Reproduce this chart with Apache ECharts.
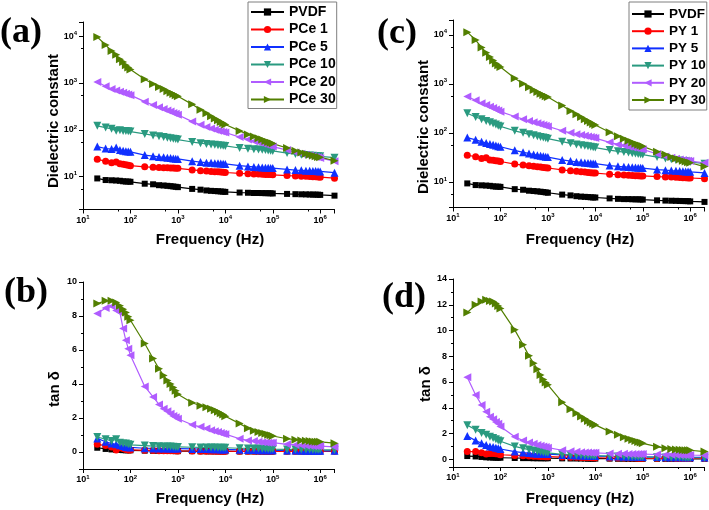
<!DOCTYPE html>
<html><head><meta charset="utf-8">
<script src="https://cdn.jsdelivr.net/npm/echarts@6/dist/echarts.min.js"></script>
<style>html,body{margin:0;padding:0;background:#fff}#c{width:709px;height:510px}</style>
</head><body><div id="c"></div>
<script>
// Frequencies (Hz)
const freq = [20,30,40,50,60,70,80,90,
  100,200,300,400,500,600,700,800,900,
  1e3,2e3,3e3,4e3,5e3,6e3,7e3,8e3,9e3,
  1e4,2e4,3e4,4e4,5e4,6e4,7e4,8e4,9e4,
  1e5,2e5,3e5,4e5,5e5,6e5,7e5,8e5,9e5,
  1e6,2e6];

const namesA = ['PVDF','PCe 1','PCe 5','PCe 10','PCe 20','PCe 30'];
const namesC = ['PVDF','PY 1','PY 5','PY 10','PY 20','PY 30'];

// (a) dielectric constant, PCe
const a_PVDF = [9.2,8.5,8.4,8.3,8.2,8.0,7.9,7.9, 7.8,7.1,6.9,6.6,6.5,6.4,6.3,6.2,6.1, 6.0,5.5,5.3,5.1,5.0,4.95,4.9,4.85,4.8, 4.75,4.6,4.55,4.5,4.5,4.48,4.46,4.45,4.44, 4.4,4.3,4.25,4.22,4.2,4.18,4.16,4.15,4.14, 4.1,3.95];
const a_PCe1 = [23.5,21.5,19.8,20.5,19.0,18.5,18.0,17.5, 17.2,16.3,16.0,15.8,15.6,15.5,15.4,15.3,15.2, 15.1,14.0,13.5,13.2,13.0,12.8,12.7,12.6,12.5, 12.3,11.8,11.6,11.5,11.4,11.3,11.2,11.2,11.1, 11.0,10.6,10.4,10.3,10.2,10.1,10.0,9.95,9.9, 9.8,9.3];
const a_PCe5 = [44,40,39,42,37,36,35,34.5, 34,29,27.5,26.5,26,25.5,25,24.5,24.2, 24,21.5,20.5,20,19.8,19.5,19.3,19.1,19, 18.8,17.2,16.6,16.2,16,15.8,15.6,15.5,15.4, 15.3,14.3,13.9,13.7,13.5,13.4,13.3,13.2,13.1, 13.0,12.2];
const a_PCe10 = [122,112,105,96,98,95,94,93, 92,82,76,73,70,68,66,65,64, 62,55,52,50,49,48,47,46.5,46, 45.5,41,39.5,38.5,38,37.5,37,36.5,36, 35.5,32,30.5,29.5,29,28.5,28,27.8,27.5, 27.2,25.5];
const a_PCe20 = [1050,850,740,690,650,620,590,570, 550,400,340,305,280,260,245,230,220, 210,150,128,115,107,101,96,93,90, 88,70,62,57,54,51,49,47,46, 44,37,33,31,29.5,28.5,27.5,26.5,26, 25,21.5];
const a_PCe30 = [9600,6500,4800,4000,3200,2800,2400,2150, 1950,1200,950,820,740,670,620,580,545, 520,350,270,225,195,175,160,148,138, 130,95,80,72,66,62,58,55,53, 51,41,36,33,31,29.5,28.5,27.5,26.5, 26,22];

// (b) tan delta, PCe
const b_PVDF = [0.25,0.18,0.15,0.13,0.12,0.11,0.1,0.1, 0.1,0.08,0.07,0.07,0.06,0.06,0.06,0.06,0.05, 0.05,0.05,0.04,0.04,0.04,0.04,0.04,0.04,0.04, 0.04,0.03,0.03,0.03,0.03,0.03,0.03,0.03,0.03, 0.03,0.03,0.03,0.03,0.03,0.03,0.03,0.03,0.03, 0.03,0.04];
const b_PCe1 = [0.45,0.38,0.3,0.12,0.25,0.2,0.15,0.12, 0.12,0.1,0.09,0.08,0.08,0.07,0.07,0.07,0.07, 0.06,0.06,0.05,0.05,0.05,0.05,0.05,0.05,0.05, 0.05,0.04,0.04,0.04,0.04,0.04,0.04,0.04,0.04, 0.04,0.04,0.04,0.04,0.04,0.04,0.04,0.04,0.04, 0.04,0.05];
const b_PCe5 = [0.8,0.6,0.5,0.45,0.4,0.35,0.3,0.28, 0.27,0.22,0.21,0.2,0.2,0.2,0.2,0.2,0.2, 0.2,0.18,0.17,0.17,0.16,0.16,0.16,0.15,0.15, 0.15,0.13,0.12,0.12,0.11,0.11,0.11,0.11,0.1, 0.1,0.09,0.09,0.08,0.08,0.08,0.08,0.08,0.08, 0.07,0.07];
const b_PCe10 = [0.88,0.75,0.65,0.75,0.55,0.5,0.5,0.45, 0.42,0.38,0.35,0.34,0.33,0.32,0.32,0.31,0.3, 0.3,0.28,0.27,0.27,0.26,0.26,0.25,0.25,0.25, 0.25,0.22,0.21,0.2,0.2,0.19,0.19,0.18,0.18, 0.17,0.15,0.15,0.14,0.14,0.14,0.13,0.13,0.13, 0.13,0.12];
const b_PCe20 = [8.14,8.47,8.57,8.33,8.2,7.26,6.57,6.08, 5.69,3.86,3.24,2.8,2.55,2.4,2.25,2.12,2.05, 1.96,1.6,1.48,1.38,1.28,1.22,1.18,1.12,1.08, 1.05,0.78,0.68,0.64,0.6,0.58,0.56,0.55,0.55, 0.55,0.45,0.42,0.4,0.38,0.37,0.36,0.35,0.35, 0.35,0.3];
const b_PCe30 = [8.73,8.9,8.9,8.8,8.6,8.4,8.2,7.95, 7.75,6.38,5.5,4.9,4.5,4.2,4.0,3.8,3.6, 3.4,2.9,2.72,2.63,2.55,2.45,2.37,2.28,2.2, 2.1,1.67,1.4,1.25,1.17,1.12,1.07,1.02,0.98, 0.94,0.78,0.72,0.68,0.66,0.64,0.62,0.61,0.6, 0.6,0.52];

// (c) dielectric constant, PY
const c_PVDF = [9.3,8.6,8.5,8.4,8.3,8.1,8.0,8.0, 7.9,7.1,6.9,6.6,6.5,6.4,6.3,6.2,6.1, 6.0,5.5,5.3,5.1,5.0,4.95,4.9,4.85,4.8, 4.8,4.6,4.5,4.45,4.45,4.42,4.4,4.4,4.38, 4.35,4.2,4.15,4.12,4.1,4.08,4.06,4.05,4.04, 4.0,3.9];
const c_PY1 = [35,32.5,30,31,28,27.5,27,26.5, 26,23,22,21.3,20.8,20.4,20,19.7,19.4, 19.2,17.5,16.8,16.4,16,15.8,15.6,15.4,15.2, 15.1,14.3,14,13.8,13.6,13.5,13.4,13.3,13.2, 13.2,12.8,12.6,12.5,12.4,12.3,12.2,12.1,12.0, 12.0,11.6];
const c_PY5 = [80,72,66,62,59,57,55,53, 52,44,40,38,36,35,34,33.3,32.7, 32,28,26.5,25.5,25,24.5,24.2,24,23.8, 23.5,21.5,20.7,20.3,20,19.8,19.6,19.4,19.3, 19.1,17.8,17.3,17,16.8,16.6,16.4,16.3,16.2, 16.0,15.2];
const c_PY10 = [250,210,190,175,165,155,147,140, 135,110,100,93,89,85,82,80,78, 76,66,61,58,56,54.5,53,52,51, 50,44.5,42,40.5,39.5,38.5,37.8,37.2,36.6, 36,32,30,29,28,27.3,26.7,26.2,25.8, 25.5,23.5];
const c_PY20 = [550,460,400,370,340,320,300,285, 270,215,190,175,165,157,150,145,140, 135,110,100,94,90,87,84,82,80, 78,64,58,55,52,50.5,49,48,47, 46,37,33,31,29.5,28.5,27.8,27.2,26.8, 26.5,24.5];
const c_PY30 = [11300,7800,5500,4300,3500,3000,2600,2400, 2200,1300,1000,850,750,680,630,590,560, 540,360,280,240,210,190,175,162,152, 145,103,85,76,69,64,60,57,55, 53,41,36,32,30,28.5,27,26,25, 24.5,20.5];

// (d) tan delta, PY
const d_PVDF = [0.25,0.22,0.18,0.15,0.14,0.13,0.12,0.12, 0.12,0.1,0.09,0.09,0.08,0.08,0.08,0.08,0.08, 0.08,0.07,0.06,0.06,0.06,0.06,0.05,0.05,0.05, 0.05,0.05,0.04,0.04,0.04,0.04,0.04,0.04,0.04, 0.04,0.04,0.03,0.03,0.03,0.03,0.03,0.03,0.03, 0.03,0.03];
const d_PY1 = [0.6,0.6,0.5,0.4,0.45,0.45,0.42,0.4, 0.35,0.3,0.27,0.25,0.24,0.23,0.22,0.21,0.2, 0.2,0.17,0.15,0.15,0.14,0.14,0.13,0.13,0.12, 0.12,0.1,0.1,0.09,0.09,0.09,0.09,0.08,0.08, 0.08,0.07,0.07,0.07,0.06,0.06,0.06,0.06,0.06, 0.06,0.06];
const d_PY5 = [1.8,1.45,1.25,1.1,1.0,0.95,0.9,0.85, 0.8,0.6,0.52,0.48,0.45,0.43,0.42,0.41,0.4, 0.4,0.34,0.31,0.3,0.29,0.28,0.27,0.26,0.26, 0.25,0.22,0.21,0.2,0.2,0.19,0.19,0.19,0.18, 0.18,0.17,0.16,0.16,0.16,0.15,0.15,0.15,0.15, 0.15,0.14];
const d_PY10 = [2.65,2.3,2.05,1.9,1.75,1.65,1.55,1.45, 1.4,1.0,0.85,0.75,0.68,0.62,0.58,0.55,0.52, 0.5,0.38,0.34,0.32,0.31,0.3,0.29,0.29,0.28, 0.28,0.24,0.22,0.21,0.2,0.2,0.19,0.19,0.19, 0.18,0.15,0.14,0.14,0.13,0.13,0.13,0.12,0.12, 0.12,0.1];
const d_PY20 = [6.37,5.0,4.22,3.7,3.3,3.1,2.9,2.75, 2.55,1.75,1.45,1.3,1.2,1.1,1.05,1.0,0.95, 0.9,0.7,0.62,0.58,0.55,0.53,0.52,0.51,0.5, 0.5,0.45,0.43,0.42,0.41,0.41,0.4,0.4,0.4, 0.4,0.37,0.36,0.35,0.35,0.34,0.34,0.34,0.34, 0.33,0.3];
const d_PY30 = [11.4,12.0,12.26,12.39,12.3,12.26,12.1,11.9, 11.7,10.05,8.9,8.03,7.46,7.0,6.55,6.2,5.96, 5.78,4.43,3.89,3.58,3.32,3.14,2.98,2.85,2.75, 2.67,2.15,1.9,1.71,1.6,1.5,1.42,1.35,1.3, 1.24,0.98,0.85,0.8,0.75,0.73,0.72,0.71,0.7, 0.7,0.6];

const FONT = '"Liberation Sans", Arial, sans-serif';
const SERIF = '"Liberation Serif", "Times New Roman", serif';
const colors = ['#000000','#ff0000','#1030ff','#2a9a80','#b05cff','#527f00'];
const symbols = ['rect','circle','triangle','path://M0,0L10,0L5,9Z','path://M9,0L9,10L0,5Z','path://M0,0L0,10L9,5Z'];
const symSizes = [6,7,8,8,8,8];

const chart = echarts.init(document.getElementById('c'));

const richPow = {
  b:{fontSize:9,fontWeight:'bold',fontFamily:FONT,color:'#000'},
  s:{fontSize:6,fontWeight:'bold',fontFamily:FONT,color:'#000',padding:[0,0,6,0]}
};
function powFmt(v){
  const e = Math.log10(v);
  if (Math.abs(e - Math.round(e)) > 1e-6) return '';
  return '{b|10}{s|' + Math.round(e) + '}';
}
const axLine = {show:true, onZero:false, lineStyle:{color:'#000', width:1}};
const axTick = {show:true, length:4, lineStyle:{color:'#000', width:1}};
const minTick = {show:true, splitNumber:2, length:2, lineStyle:{color:'#000', width:1}};

function logX(gi){
  return {type:'log', logBase:10, gridIndex:gi, min:10, max:2e6,
    axisLine:axLine, axisTick:axTick, minorTick:minTick,
    splitLine:{show:false}, minorSplitLine:{show:false},
    axisLabel:{margin:5, formatter:powFmt, rich:richPow}};
}
function logY(gi, min, max){
  return {type:'log', logBase:10, gridIndex:gi, min:min, max:max,
    axisLine:axLine, axisTick:axTick, minorTick:minTick,
    splitLine:{show:false}, minorSplitLine:{show:false},
    axisLabel:{margin:6, formatter:powFmt, rich:richPow}};
}
function linY(gi, min, max, split){
  return {type:'value', gridIndex:gi, min:min, max:max, splitNumber:split,
    axisLine:axLine, axisTick:axTick, minorTick:minTick,
    splitLine:{show:false}, minorSplitLine:{show:false},
    axisLabel:{margin:6, fontSize:9, fontWeight:'bold', fontFamily:FONT, color:'#000',
      formatter: v => (v < 0 ? '' : String(v))}};
}

function mk(names, arrs, gi){
  return arrs.map((vals, k) => ({
    type:'line', name:names[k], xAxisIndex:gi, yAxisIndex:gi,
    data: freq.map((f, i) => [f, vals[i]]),
    symbol: symbols[k], symbolSize: symSizes[k], showSymbol:true, showAllSymbol:true,
    lineStyle:{color:colors[k], width:1.2}, itemStyle:{color:colors[k]},
    emphasis:{disabled:true}, animation:false
  }));
}

const series = [].concat(
  mk(namesA, [a_PVDF,a_PCe1,a_PCe5,a_PCe10,a_PCe20,a_PCe30], 0),
  mk(namesA, [b_PVDF,b_PCe1,b_PCe5,b_PCe10,b_PCe20,b_PCe30], 1),
  mk(namesC, [c_PVDF,c_PY1,c_PY5,c_PY10,c_PY20,c_PY30], 2),
  mk(namesC, [d_PVDF,d_PY1,d_PY5,d_PY10,d_PY20,d_PY30], 3)
);

function txt(t, x, y, size, opts){
  return Object.assign({type:'text', x:x, y:y, z:100,
    style:{text:t, fontSize:size, fontWeight:'bold', fontFamily:FONT, fill:'#000',
      align:'center', verticalAlign:'middle'}}, opts || {});
}
function ptxt(t, x, y){
  return {type:'text', x:x, y:y, z:100,
    style:{text:t, fontSize:36, fontWeight:'bold', fontFamily:SERIF, fill:'#000',
      align:'left', verticalAlign:'middle'}};
}

const legendBase = {orient:'vertical', itemWidth:33, itemHeight:9, borderColor:'#7f7f7f', borderWidth:1,
  backgroundColor:'#fff', selectedMode:false,
  textStyle:{fontSize:14, fontWeight:'bold', fontFamily:FONT, color:'#000'}};

chart.setOption({
  animation:false,
  backgroundColor:'#fff',
  grid:[
    {left:83, top:22, width:251.5, height:187.5, outerBoundsMode:'none'},
    {left:83, top:282, width:251.5, height:187, outerBoundsMode:'none'},
    {left:453, top:20, width:251.5, height:187.5, outerBoundsMode:'none'},
    {left:453, top:279, width:251.5, height:188, outerBoundsMode:'none'}
  ],
  xAxis:[logX(0), logX(1), logX(2), logX(3)],
  yAxis:[logY(0, 2, 20000), linY(1, -1, 10, 5), logY(2, 3, 20000), linY(3, -0.6, 14, 7)],
  legend:[
    Object.assign({}, legendBase, {left:248, top:2, padding:[3,1,2,2], itemGap:3.5, data:namesA}),
    Object.assign({}, legendBase, {left:629, top:2, padding:[5,1,3,2], itemGap:3.2, itemWidth:32, itemTextGap:4,
      textStyle:{fontSize:13.5, fontWeight:'bold', fontFamily:FONT, color:'#000'}, data:namesC})
  ],
  graphic:[
    ptxt('(a)', 0, 33), ptxt('(b)', 4, 293), ptxt('(c)', 377, 34), ptxt('(d)', 382, 298),
    txt('Dielectric constant', 54, 121, 15, {rotation:Math.PI/2}),
    txt('Dielectric constant', 424, 127, 15, {rotation:Math.PI/2}),
    txt('tan δ', 55, 389, 15, {rotation:Math.PI/2}),
    txt('tan δ', 426, 384, 15, {rotation:Math.PI/2}),
    txt('Frequency (Hz)', 210, 240, 15),
    txt('Frequency (Hz)', 580, 240, 15),
    txt('Frequency (Hz)', 210, 499, 15),
    txt('Frequency (Hz)', 580, 499, 15)
  ],
  series: series
});
</script></body></html>
